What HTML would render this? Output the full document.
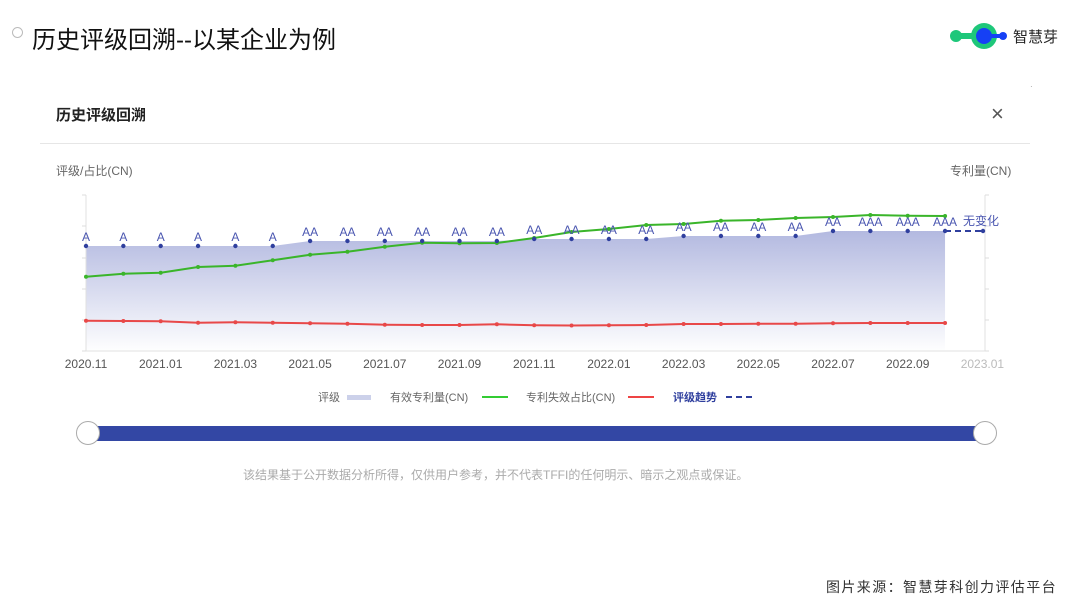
<!DOCTYPE html>
<html><head><meta charset="utf-8"><style>
body{margin:0;width:1080px;height:608px;background:#fff;overflow:hidden;font-family:"Liberation Sans","Noto Sans CJK SC",sans-serif;position:relative}
.t{position:absolute;white-space:nowrap}
</style></head><body>
<div class="t" style="left:12px;top:27px;width:9px;height:9px;border:1.5px solid #bbb;border-radius:50%"></div>
<div class="t" style="left:32px;top:20px;font-size:24px;color:#111">历史评级回溯--以某企业为例</div>
<svg class="t" style="left:946px;top:22px" width="66" height="28"><circle cx="10" cy="14" r="6" fill="#1ec77a"/><rect x="10" y="11" width="20" height="6" fill="#1ec77a"/><circle cx="38" cy="14" r="13" fill="#1ec77a"/><circle cx="38" cy="14" r="8" fill="#1640f5"/><rect x="44" y="12" width="12" height="4" fill="#1640f5"/><circle cx="57" cy="14" r="4" fill="#1640f5"/></svg>
<div class="t" style="left:1013px;top:26px;font-size:15px;color:#222">智慧芽</div>
<div class="t" style="left:1030px;top:82px;font-size:8px;color:#999">·</div>
<div class="t" style="left:56px;top:104px;font-size:15px;font-weight:bold;color:#222">历史评级回溯</div>
<div class="t" style="left:991px;top:101px;font-size:22px;color:#555">×</div>
<div class="t" style="left:40px;top:143px;width:990px;height:1px;background:#e6e6e6"></div>
<div class="t" style="left:56px;top:162px;font-size:12px;color:#666">评级/占比(CN)</div>
<div class="t" style="left:950px;top:162px;font-size:12px;color:#666">专利量(CN)</div>
<svg id="c" class="t" style="left:0;top:0" width="1080" height="608"></svg>
<div class="t" style="left:318px;top:389px;font-size:11px;color:#666">评级</div>
<div class="t" style="left:347px;top:395px;width:24px;height:5px;background:#ccd1ea"></div>
<div class="t" style="left:390px;top:389px;font-size:11px;color:#666">有效专利量(CN)</div>
<div class="t" style="left:482px;top:396px;width:26px;height:2px;background:#3c3"></div>
<div class="t" style="left:526px;top:389px;font-size:11px;color:#666">专利失效占比(CN)</div>
<div class="t" style="left:628px;top:396px;width:26px;height:2px;background:#e44"></div>
<div class="t" style="left:673px;top:389px;font-size:11px;color:#2f3f9e;font-weight:bold">评级趋势</div>
<div class="t" style="left:726px;top:396px;width:26px;height:0;border-top:2px dashed #2f3f9e"></div>
<div class="t" style="left:88px;top:426px;width:897px;height:15px;background:#3347a4"></div>
<div class="t" style="left:76px;top:421px;width:22px;height:22px;border:1px solid #aaa;border-radius:50%;background:#fff"></div>
<div class="t" style="left:973px;top:421px;width:22px;height:22px;border:1px solid #aaa;border-radius:50%;background:#fff"></div>
<div class="t" style="left:243px;top:466px;font-size:12px;color:#aaa">该结果基于公开数据分析所得，仅供用户参考，并不代表TFFI的任何明示、暗示之观点或保证。</div>
<div class="t" style="left:826px;top:577px;font-size:14px;letter-spacing:1.4px;color:#333">图片来源：智慧芽科创力评估平台</div>
<script>
var s='',X=i=>86+37.35*i;
var g=[276.7,273.7,272.7,267,265.7,260.3,254.7,251.7,246.7,242.7,243.3,243,238,232,229,225,224,220.7,220,218,217,215,215.7,216];
var r=[320.7,321,321.3,322.7,322.3,322.7,323.3,323.7,324.7,325,325,324.3,325.3,325.5,325.3,325,324,324,323.7,323.7,323.3,323,323,323];
var d=[],L=[];for(var i=0;i<24;i++){d.push(i<6?246:i<12?241:i<16?239:i<20?236:231);L.push(i<6?'A':i<21?'AA':'AAA');}
s+='<defs><linearGradient id="a" x1="0" y1="0" x2="0" y2="1"><stop offset="0" stop-color="#b3b9e0"/><stop offset="1" stop-color="#b3b9e0" stop-opacity="0.02"/></linearGradient></defs>';
var p='M86,350';for(i=0;i<24;i++)p+=' L'+X(i)+','+d[i];p+=' L945,350Z';
s+='<path d="'+p+'" fill="url(#a)"/>';
s+='<line x1="86" y1="195" x2="86" y2="351" stroke="#e0e0e0"/><line x1="985" y1="195" x2="985" y2="351" stroke="#e0e0e0"/><line x1="86" y1="351" x2="985" y2="351" stroke="#e0e0e0"/>';
[195,226,258,289,320,351].forEach(y=>{s+='<line x1="82" y1="'+y+'" x2="86" y2="'+y+'" stroke="#ddd"/><line x1="985" y1="'+y+'" x2="989" y2="'+y+'" stroke="#ddd"/>';});
function pl(a,c){var q='';a.forEach((y,i)=>q+=X(i)+','+y+' ');s+='<polyline points="'+q+'" fill="none" stroke="'+c+'" stroke-width="2"/>';a.forEach((y,i)=>s+='<circle cx="'+X(i)+'" cy="'+y+'" r="2" fill="'+c+'"/>');}
pl(r,'#e84848');pl(g,'#3ab52a');
s+='<line x1="945" y1="231" x2="983" y2="231" stroke="#2f3f9e" stroke-width="2" stroke-dasharray="6,4"/><circle cx="983" cy="231" r="2.2" fill="#2f3f9e"/>';
for(i=0;i<24;i++){s+='<circle cx="'+X(i)+'" cy="'+d[i]+'" r="2.2" fill="#2f3f9e"/><text x="'+X(i)+'" y="'+(d[i]-5)+'" font-size="12" fill="#4a56b0" text-anchor="middle">'+L[i]+'</text>';}
s+='<text x="963" y="225" font-size="12" fill="#4a56b0">无变化</text>';
['2020.11','2021.01','2021.03','2021.05','2021.07','2021.09','2021.11','2022.01','2022.03','2022.05','2022.07','2022.09','2023.01'].forEach((t,k)=>{s+='<text x="'+X(k*2)+'" y="368" font-size="12" fill="'+(k==12?'#bbb':'#555')+'" text-anchor="middle">'+t+'</text>';});
document.getElementById('c').innerHTML=s;
</script>
</body></html>
